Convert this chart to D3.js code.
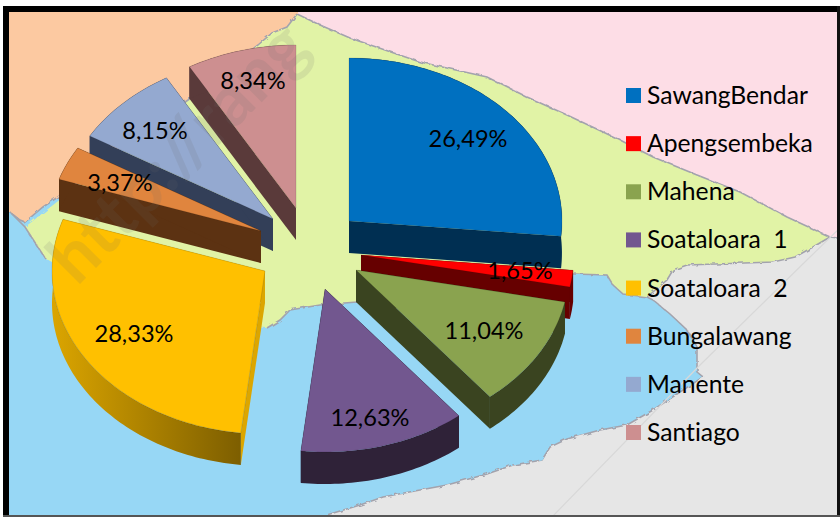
<!DOCTYPE html>
<html><head><meta charset="utf-8">
<script src="https://cdnjs.cloudflare.com/ajax/libs/d3/7.9.0/d3.min.js"></script>
<style>html,body{margin:0;padding:0;background:#fff}svg{display:block}text{font-family:Lato,sans-serif;fill:#000;font-variant-ligatures:none;white-space:pre}</style>
</head><body><svg id="c" width="840" height="517"></svg>
<script>
const categories = ["SawangBendar","Apengsembeka","Mahena","Soataloara  1","Soataloara  2","Bungalawang","Manente","Santiago"];
const values = [26.49,1.65,11.04,12.63,28.33,3.37,8.15,8.34];
const labels = ["26,49%","1,65%","11,04%","12,63%","28,33%","3,37%","8,15%","8,34%"];
const topColors = ["#0070c0","#ff0000","#8aa34f","#72578f","#ffc000","#e0853e","#94a9d0","#cd8f90"];
const sideColors = ["#002f52","#660000","#3a4420","#2f2238","url(#ysd)","#5c3212","#333f58","#5a3a3a"];
const radialColors = ["#002f52","#660000","#3a4420","#2f2238","#dca600","#5c3212","#333f58","#5a3a3a"];

// layout: slice apex of each exploded wedge, label centre, draw order
const apex = [[349,221],[361,255],[356,270],[325,289],[265,271],[261,231],[273,219],[296,208]];
const labelPos = [[468,139],[520,271],[484,331],[370,418],[134,334],[120,183],[155,131],[253,81]];
const drawOrder = [7,6,5,0,1,2,4,3];
const rx = 213, ry = 163, depth = 32;

// background map regions
const greyLand = [[420,490],[383,497],[360,505],[330,514],[320,517],[840,517],[840,238],[830,237],[813,247],[795,257],[773,262],[687,265],[673,270],[667,280],[647,297]];
const seaEdge = [[653,300],[670,314],[687,330],[697,347],[697,372],[703,377],[677,394],[653,410],[627,425],[600,430],[567,439],[550,447],[542,460],[513,465],[487,474],[447,485],[420,490]];
const landTop = [[297,14],[320,25],[350,38],[420,62],[487,77],[527,97],[567,115],[620,140],[653,157],[697,175],[740,192],[787,217],[830,237],[838,238]];
const landBottom = [[830,237],[813,247],[795,257],[773,262],[687,265],[673,270],[667,280],[647,297],[623,294],[613,285],[607,275],[573,274],[420,280],[357,302],[320,305],[290,310],[280,320],[267,328],[150,320],[45,258],[25,227]];
const peachEdge = [[297,14],[287,27],[272,33],[258,45],[220,75],[188,100],[120,150],[58,197],[43,207],[25,222],[20,220],[10,212]];

const svg = d3.select("#c");
const defs = svg.append("defs");
const g = defs.append("linearGradient").attr("id","ysd").attr("gradientUnits","userSpaceOnUse")
  .attr("x1",52).attr("x2",241).attr("y1",0).attr("y2",0);
g.append("stop").attr("offset",0).attr("stop-color","#dba500");
g.append("stop").attr("offset",1).attr("stop-color","#7d5e00");
const rough = defs.append("filter").attr("id","rough").attr("filterUnits","userSpaceOnUse")
  .attr("x",0).attr("y",0).attr("width",840).attr("height",517);
rough.append("feTurbulence").attr("type","fractalNoise").attr("baseFrequency",0.18).attr("numOctaves",2).attr("seed",4).attr("result","n");
rough.append("feDisplacementMap").attr("in","SourceGraphic").attr("in2","n").attr("scale",4);

const line = d3.line();
const edge = "#a3a3ad";
svg.append("rect").attr("width",840).attr("height",517).attr("fill","#97d7f5");
const mapG = svg.append("g").attr("filter","url(#rough)");
mapG.append("path").attr("d",line(greyLand.concat(seaEdge))+"Z").attr("fill","#e6e6e6");
mapG.append("path").attr("d",line(landTop.concat(landBottom))+"Z").attr("fill","#e1f3a6");
mapG.append("path").attr("d",line([[0,0]].concat([[297,0]],peachEdge,[[0,212]]))+"Z").attr("fill","#fcc9a1");
mapG.append("path").attr("d",line([[297,0]].concat(landTop,[[840,238],[840,0]]))+"Z").attr("fill","#fddde6");
[landTop,peachEdge,seaEdge,[[653,300],[647,297],[623,294],[613,285],[607,275],[573,274]],[[830,237],[813,247],[795,257],[773,262],[687,265],[673,270],[667,280],[647,297]],[[357,302],[320,305],[290,310],[280,320],[267,328]],[[10,212],[25,227],[45,258]],[[420,490],[383,497],[360,505],[330,514],[320,517]]]
 .forEach(p=>mapG.append("path").attr("d",line(p)).attr("fill","none").attr("stroke",edge).attr("stroke-width",1.6));
svg.append("path").attr("d",line([[552,517],[698,367],[810,257],[840,228]])).attr("fill","none").attr("stroke","#d8d8d8").attr("stroke-width",1.2);

// pie
const pie = d3.pie().sort(null).value(d=>d);
const arcs = pie(values);
const pt = (c,a,dy=0)=>[c[0]+rx*Math.sin(a), c[1]-ry*Math.cos(a)+dy];
function arcPts(c,a0,a1,dy){
  const n = Math.max(2,Math.ceil((a1-a0)/0.02));
  return d3.range(n+1).map(i=>pt(c,a0+(a1-a0)*i/n,dy));
}
drawOrder.forEach(i=>{
  const a=arcs[i], c=apex[i], c2=[c[0],c[1]+depth];
  const s=svg.append("g");
  [a.startAngle,a.endAngle].forEach(t=>{
    s.append("path").attr("d",line([c,pt(c,t),pt(c,t,depth),c2])+"Z").attr("fill",radialColors[i]);
  });
  s.append("path").attr("d",line(arcPts(c,a.startAngle,a.endAngle,0).concat(arcPts(c,a.startAngle,a.endAngle,depth).reverse()))+"Z").attr("fill",sideColors[i]);
  s.append("path").attr("d",line([c].concat(arcPts(c,a.startAngle,a.endAngle,0)))+"Z").attr("fill",topColors[i]).attr("stroke","#000").attr("stroke-opacity",.12).attr("stroke-width",1);
});

// watermark
svg.append("text").text("http://rang").attr("transform","translate(77,287) rotate(-45)")
  .attr("font-size",70).attr("font-weight",700).style("fill","#6b6b6b").attr("opacity",.13);

// data labels
labels.forEach((t,i)=>svg.append("text").text(t).attr("x",labelPos[i][0]).attr("y",labelPos[i][1]+8)
  .attr("text-anchor","middle").attr("font-size",23.6));

// legend
const ly = d3.scalePoint().domain(categories).range([96,433]);
categories.forEach((n,i)=>{
  svg.append("rect").attr("x",626).attr("y",ly(n)-8).attr("width",15).attr("height",15).attr("fill",topColors[i]);
  svg.append("text").text(n).attr("x",647).attr("y",ly(n)+8).attr("font-size",24.7);
});

// frame
svg.append("rect").attr("x",0).attr("y",0).attr("width",840).attr("height",6).attr("fill","#fff");
svg.append("rect").attr("x",0).attr("y",0).attr("width",3).attr("height",517).attr("fill","#fff");
svg.append("rect").attr("x",3).attr("y",6).attr("width",837).attr("height",6).attr("fill","#000");
svg.append("rect").attr("x",3).attr("y",6).attr("width",6).attr("height",511).attr("fill","#000");
svg.append("rect").attr("x",837).attr("y",6).attr("width",3).attr("height",511).attr("fill","#111");
svg.append("rect").attr("x",3).attr("y",515).attr("width",837).attr("height",2).attr("fill","#555");
</script></body></html>
